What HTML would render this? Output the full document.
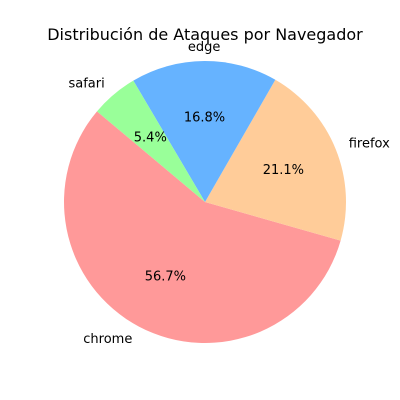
<!DOCTYPE html>
<html><head><meta charset="utf-8"><style>
body{margin:0;background:#fff;}
svg{display:block;font-family:"DejaVu Sans","Liberation Sans",sans-serif;}
</style></head><body>
<svg id="chart" width="400" height="400" viewBox="0 0 400 400">
<text x="205" y="40" text-anchor="middle" font-size="16">Distribución de Ataques por Navegador</text>
<g id="slices"></g>
</svg>
<script>
const categories = ["chrome","firefox","edge","safari"];
const values = [56.7, 21.1, 16.8, 5.4];
const pctLabels = ["56.7%","21.1%","16.8%","5.4%"];
const colors = ["#ff9999","#ffcc99","#66b3ff","#99ff99"];
const cx = 205, cy = 202, r = 141, startAngle = 140;
const g = document.getElementById('slices');
const ns = "http://www.w3.org/2000/svg";
const total = values.reduce((a,b)=>a+b,0);
function pt(deg, rad){const a=deg*Math.PI/180;return [cx+rad*Math.cos(a), cy-rad*Math.sin(a)];}
let a0 = startAngle;
values.forEach((v,i)=>{
  const sweep = v/total*360, a1 = a0+sweep;
  const p0=pt(a0,r), p1=pt(a1,r);
  const path=document.createElementNS(ns,'path');
  path.setAttribute('d',`M${cx},${cy} L${p0[0]},${p0[1]} A${r},${r} 0 ${sweep>180?1:0} 0 ${p1[0]},${p1[1]} Z`);
  path.setAttribute('fill',colors[i]);
  
  
  g.appendChild(path);
  const mid=(a0+a1)/2;
  const lp=pt(mid,r*1.1);
  const c=Math.cos(mid*Math.PI/180);
  const t=document.createElementNS(ns,'text');
  t.setAttribute('x',lp[0]);t.setAttribute('y',lp[1]+4);
  t.setAttribute('font-size','13');
  t.setAttribute('text-anchor', c>0.01?'start':(c<-0.01?'end':'middle'));
  t.textContent=categories[i];
  
  
  g.appendChild(t);
  const pp=pt(mid,r*0.6);
  const u=document.createElementNS(ns,'text');
  u.setAttribute('x',pp[0]);u.setAttribute('y',pp[1]+4);
  u.setAttribute('font-size','13');u.setAttribute('text-anchor','middle');
  u.textContent=pctLabels[i];
  
  
  g.appendChild(u);
  a0=a1;
});
</script>
</body></html>
